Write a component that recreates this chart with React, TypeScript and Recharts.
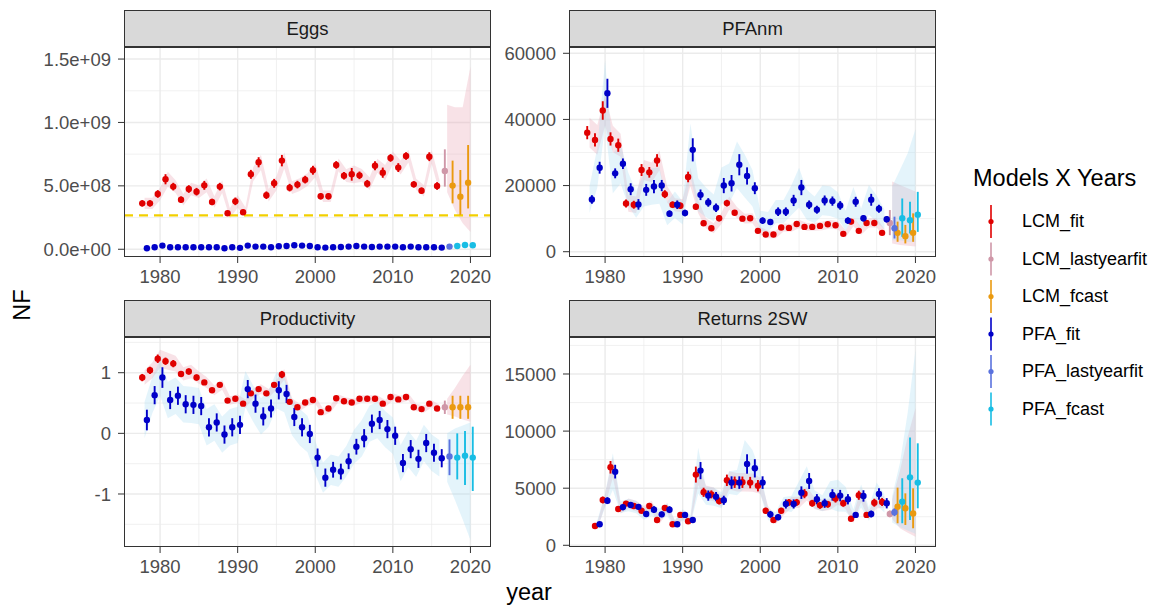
import {
  ComposedChart, Scatter, Area, XAxis, YAxis, CartesianGrid, ErrorBar, ReferenceLine,
} from "recharts";

// Four facets (free y scales): LCM vs PFA model fits, last-year fit and forecasts.

const FONT = '"Liberation Sans", Arial, Helvetica, sans-serif';

const years = [
  1978, 1979, 1980, 1981, 1982, 1983, 1984, 1985, 1986, 1987,
  1988, 1989, 1990, 1991, 1992, 1993, 1994, 1995, 1996, 1997,
  1998, 1999, 2000, 2001, 2002, 2003, 2004, 2005, 2006, 2007,
  2008, 2009, 2010, 2011, 2012, 2013, 2014, 2015, 2016,
  2017, 2018, 2019, 2020,
];
const LAST_FIT = 2016;
const LAST_YEAR_FIT = 2017;

const xTicks = [1980, 1990, 2000, 2010, 2020];
const xMinor = [1985, 1995, 2005, 2015];

// ---- Eggs (x 1e8) ----
const eggsLCM = [
  3.62, 3.62, 4.36, 5.52, 4.94, 3.91, 4.75, 4.54, 5.04, 3.73,
  4.94, 2.84, 3.78, 2.92, 5.91, 6.86, 4.26, 5.20, 6.99, 4.86,
  5.10, 5.49, 6.23, 4.18, 4.18, 6.65, 5.80, 5.91, 5.83, 5.17,
  6.59, 6.04, 7.20, 6.44, 7.35, 5.12, 4.62, 7.30, 4.99,
  6.17, 5.02, 4.15, 5.25,
];
const eggsLCMErr = [
  0.25, 0.25, 0.3, 0.4, 0.3, 0.25, 0.3, 0.3, 0.35, 0.25,
  0.3, 0.2, 0.3, 0.2, 0.35, 0.4, 0.3, 0.35, 0.45, 0.3,
  0.3, 0.3, 0.35, 0.25, 0.25, 0.3, 0.3, 0.5, 0.3, 0.3,
  0.35, 0.4, 0.3, 0.35, 0.3, 0.25, 0.25, 0.35, 0.3,
  [1.23, 1.71], [1.4, 1.97], [1.44, 2.1], [2.03, 2.97],
];
const eggsLCMBand = [
  0.45, 0.45, 0.5, 0.6, 0.5, 0.45, 0.5, 0.5, 0.55, 0.45,
  0.5, 0.4, 0.5, 0.4, 0.55, 0.6, 0.5, 0.55, 0.65, 0.5,
  0.5, 0.5, 0.55, 0.45, 0.45, 0.5, 0.5, 0.7, 0.5, 0.5,
  0.55, 0.6, 0.5, 0.55, 0.5, 0.45, 0.45, 0.55, 0.5,
  [1.67, 5.23], [1.92, 6.18], [2.1, 7.05], [3.88, 9.15],
];
const eggsPFA = [
  0.08, 0.16, 0.29, 0.16, 0.16, 0.16, 0.16, 0.16, 0.16, 0.16,
  0.08, 0.16, 0.11, 0.29, 0.21, 0.21, 0.16, 0.24, 0.26, 0.32,
  0.29, 0.26, 0.16, 0.13, 0.16, 0.18, 0.21, 0.26, 0.21, 0.18,
  0.21, 0.21, 0.21, 0.16, 0.21, 0.16, 0.16, 0.16, 0.13,
  0.21, 0.26, 0.34, 0.32,
];
const eggsPFAErr = [
  0.02, 0.02, 0.02, 0.02, 0.02, 0.02, 0.02, 0.02, 0.02, 0.02,
  0.02, 0.02, 0.02, 0.02, 0.02, 0.02, 0.02, 0.02, 0.02, 0.02,
  0.02, 0.02, 0.02, 0.02, 0.02, 0.02, 0.02, 0.02, 0.02, 0.02,
  0.02, 0.02, 0.02, 0.02, 0.02, 0.02, 0.02, 0.02, 0.02,
  0.03, 0.04, 0.05, 0.05,
];
const eggsPFABand = [
  0.05, 0.05, 0.05, 0.05, 0.05, 0.05, 0.05, 0.05, 0.05, 0.05,
  0.05, 0.05, 0.05, 0.05, 0.05, 0.05, 0.05, 0.05, 0.05, 0.05,
  0.05, 0.05, 0.05, 0.05, 0.05, 0.05, 0.05, 0.05, 0.05, 0.05,
  0.05, 0.05, 0.05, 0.05, 0.05, 0.05, 0.05, 0.05, 0.05,
  0.06, 0.08, 0.1, 0.1,
];
const eggsLimit = 2.68; // conservation limit, x 1e8

// ---- PFAnm (x 1000) ----
const pfanmLCM = [
  36.0, 33.8, 42.7, 34.1, 32.2, 14.6, 14.2, 24.7, 24.0, 27.6,
  17.4, 14.2, 13.9, 22.6, 13.6, 8.6, 7.1, 10.1, 14.7, 11.8,
  10.0, 10.1, 6.3, 5.2, 5.2, 7.3, 7.2, 8.4, 7.5, 7.5,
  7.8, 8.3, 8.0, 5.4, 9.1, 6.3, 8.7, 8.7, 5.7,
  8.7, 5.7, 4.7, 5.7,
];
const pfanmLCMErr = [
  2.0, 2.0, 2.8, 2.0, 2.0, 1.2, 1.2, 1.8, 1.6, 1.9,
  1.2, 1.0, 1.0, 1.6, 0.9, 0.8, 0.7, 0.9, 1.0, 0.8,
  0.8, 0.8, 0.6, 0.5, 0.5, 0.6, 0.6, 0.7, 0.6, 0.6,
  0.7, 0.7, 0.7, 0.5, 0.8, 0.6, 0.8, 0.8, 0.6,
  [3.7, 3.9], [2.7, 3.4], [2.2, 3.4], [2.7, 5.9],
];
const pfanmLCMBand = [
  4.5, 4.5, 4.5, 4.0, 3.5, 2.5, 2.5, 3.0, 3.0, 3.0,
  2.5, 2.0, 2.0, 2.8, 2.0, 1.5, 1.5, 1.7, 2.0, 1.7,
  1.5, 1.5, 1.2, 1.1, 1.1, 1.2, 1.2, 1.3, 1.2, 1.2,
  1.3, 1.3, 1.3, 1.1, 1.4, 1.2, 1.4, 1.4, 1.2,
  [6.2, 12.5], [3.7, 14.5], [2.9, 14.5], [4.1, 12.5],
];
const pfanmPFA = [
  15.8, 25.4, 47.9, 23.7, 26.6, 18.9, 14.3, 18.7, 19.7, 20.0,
  11.5, 14.2, 11.7, 30.8, 17.2, 14.9, 13.3, 20.0, 20.7, 26.3,
  22.9, 19.2, 9.4, 9.0, 12.1, 12.1, 15.5, 19.4, 14.2, 12.7,
  15.5, 15.3, 14.0, 9.4, 15.1, 10.1, 15.7, 13.0, 9.8,
  7.1, 10.1, 9.5, 11.2,
];
const pfanmPFAErr = [
  1.3, 1.8, 4.4, 1.5, 1.6, 1.8, 1.6, 1.8, 2.0, 1.7,
  1.0, 1.3, 1.0, 3.5, 1.6, 1.3, 1.3, 2.3, 2.5, 3.2,
  2.6, 1.8, 1.0, 0.9, 1.3, 1.3, 1.7, 2.3, 1.3, 1.2,
  1.5, 1.4, 1.3, 1.0, 1.5, 1.0, 1.8, 1.2, 1.0,
  [3.1, 3.5], [5.6, 6.0], [4.0, 5.6], [5.2, 6.9],
];
const pfanmPFABand = [
  4.0, 6.0, 10.0, 6.0, 6.0, 5.0, 4.0, 5.0, 5.5, 5.5,
  3.5, 4.0, 3.5, 8.0, 5.0, 4.5, 4.0, 5.5, 6.0, 7.0,
  6.5, 5.5, 3.0, 3.0, 3.5, 3.5, 4.5, 6.0, 4.5, 4.0,
  4.5, 4.5, 4.0, 3.0, 4.5, 3.0, 4.5, 4.0, 3.0,
  [3.6, 12.6], [6.6, 14.6], [6.5, 20.3], [8.2, 25.8],
];

// ---- Productivity ----
const prodLCM = [
  0.92, 1.04, 1.23, 1.19, 1.15, 0.98, 1.02, 0.92, 0.84, 0.71,
  0.80, 0.54, 0.57, 0.49, 0.66, 0.73, 0.66, 0.80, 0.97, 0.52,
  0.43, 0.51, 0.55, 0.35, 0.41, 0.58, 0.53, 0.51, 0.57, 0.57,
  0.57, 0.49, 0.60, 0.56, 0.60, 0.43, 0.40, 0.49, 0.41,
  0.43, 0.43, 0.43, 0.43,
];
const prodLCMErr = [
  0.06, 0.06, 0.07, 0.06, 0.06, 0.05, 0.05, 0.05, 0.04, 0.04,
  0.04, 0.03, 0.03, 0.03, 0.04, 0.04, 0.03, 0.04, 0.06, 0.03,
  0.03, 0.03, 0.03, 0.03, 0.03, 0.03, 0.03, 0.03, 0.03, 0.03,
  0.03, 0.03, 0.03, 0.03, 0.03, 0.03, 0.03, 0.03, 0.03,
  0.11, 0.19, 0.19, 0.19,
];
const prodLCMBand = [
  0.12, 0.13, 0.15, 0.14, 0.13, 0.11, 0.11, 0.10, 0.09, 0.08,
  0.08, 0.07, 0.07, 0.07, 0.08, 0.08, 0.07, 0.08, 0.09, 0.06,
  0.06, 0.06, 0.06, 0.06, 0.06, 0.06, 0.06, 0.06, 0.06, 0.06,
  0.06, 0.06, 0.06, 0.06, 0.06, 0.06, 0.06, 0.06, 0.06,
  [0.12, 0.14], [0.15, 0.32], [0.2, 0.52], [0.24, 0.7],
];
const prodPFA = [
  0.22, 0.63, 0.92, 0.55, 0.62, 0.48, 0.47, 0.45, 0.10, 0.18,
  -0.02, 0.10, 0.14, 0.73, 0.49, 0.28, 0.41, 0.71, 0.65, 0.27,
  0.10, -0.01, -0.40, -0.73, -0.60, -0.63, -0.46, -0.22, -0.08, 0.16,
  0.22, 0.07, -0.04, -0.49, -0.26, -0.42, -0.16, -0.32, -0.41,
  -0.38, -0.40, -0.37, -0.40,
];
const prodPFAErr = [
  0.17, 0.15, 0.17, 0.15, 0.15, 0.15, 0.15, 0.15, 0.15, 0.15,
  0.15, 0.15, 0.15, 0.15, 0.15, 0.15, 0.15, 0.15, 0.15, 0.15,
  0.15, 0.15, 0.15, 0.15, 0.13, 0.13, 0.13, 0.13, 0.15, 0.15,
  0.15, 0.15, 0.15, 0.15, 0.15, 0.15, 0.15, 0.15, 0.15,
  [0.31, 0.28], [0.36, 0.4], [0.48, 0.41], [0.55, 0.51],
];
const prodPFABand = [
  0.3, 0.3, 0.3, 0.3, 0.3, 0.3, 0.3, 0.3, 0.3, 0.3,
  0.3, 0.3, 0.3, 0.3, 0.3, 0.3, 0.3, 0.3, 0.3, 0.3,
  0.3, 0.3, 0.28, 0.25, 0.25, 0.25, 0.25, 0.28, 0.3, 0.3,
  0.3, 0.3, 0.3, 0.3, 0.3, 0.3, 0.3, 0.3, 0.3,
  [0.42, 0.38], [0.7, 0.48], [1.05, 0.5], [1.36, 0.58],
];

// ---- Returns 2SW (x 1000), no 1978 value ----
const retLCM = [
  null, 1.69, 3.97, 6.83, 3.18, 3.65, 3.44, 3.03, 3.44, 2.22,
  3.27, 1.84, 2.66, 2.10, 6.19, 4.64, 4.46, 3.88, 5.69, 5.52,
  5.52, 5.49, 5.22, 3.03, 2.22, 3.03, 3.76, 3.76, 4.52, 3.68,
  3.50, 3.59, 4.09, 3.68, 2.33, 4.38, 2.66, 3.73, 3.79,
  2.75, 3.38, 3.24, 2.78,
];
const retLCMErr = [
  null, 0.12, 0.3, 0.55, 0.2, 0.2, 0.2, 0.2, 0.2, 0.15,
  0.25, 0.12, 0.2, 0.15, 0.7, 0.4, 0.35, 0.3, 0.5, 0.5,
  0.5, 0.5, 0.5, 0.25, 0.2, 0.25, 0.3, 0.3, 0.4, 0.3,
  0.3, 0.3, 0.35, 0.3, 0.2, 0.4, 0.25, 0.35, 0.35,
  0.3, [1.45, 1.67], [1.46, 1.31], [1.29, 2.21],
];
const retLCMBand = [
  null, 0.3, 0.5, 0.9, 0.4, 0.45, 0.45, 0.4, 0.45, 0.35,
  0.45, 0.3, 0.4, 0.3, 0.9, 0.6, 0.6, 0.5, 0.8, 0.8,
  0.8, 0.8, 0.7, 0.4, 0.35, 0.4, 0.5, 0.5, 0.6, 0.5,
  0.5, 0.5, 0.55, 0.5, 0.35, 0.6, 0.4, 0.5, 0.5,
  [0.45, 1.25], [1.88, 3.12], [2.14, 6.26], [2.03, 9.22],
];
const retPFA = [
  null, 1.84, 3.91, 6.45, 3.33, 3.53, 3.36, 2.74, 3.12, 2.71,
  3.12, 1.84, 2.66, 2.22, 6.54, 4.35, 4.26, 3.94, 5.49, 5.49,
  7.12, 6.74, 5.49, 2.71, 2.45, 3.62, 3.62, 4.61, 5.63, 4.03,
  3.68, 4.41, 4.35, 4.03, 2.66, 4.32, 2.74, 4.49, 3.68,
  2.90, 3.82, 5.95, 5.49,
];
const retPFAErr = [
  null, 0.15, 0.3, 0.6, 0.25, 0.25, 0.25, 0.25, 0.3, 0.25,
  0.3, 0.15, 0.25, 0.15, 0.75, 0.45, 0.4, 0.4, 0.55, 0.55,
  0.85, 0.8, 0.55, 0.3, 0.25, 0.4, 0.4, 0.55, 0.7, 0.45,
  0.4, 0.5, 0.5, 0.45, 0.25, 0.5, 0.3, 0.5, 0.45,
  0.35, [1.89, 2.05], [3.73, 3.5], [2.25, 3.44],
];
const retPFABand = [
  null, 0.35, 0.6, 1.6, 0.5, 0.55, 0.55, 0.5, 0.55, 0.5,
  0.55, 0.35, 0.5, 0.4, 2.0, 0.8, 0.8, 0.7, 1.0, 1.1,
  2.1, 1.6, 1.0, 0.5, 0.45, 0.6, 0.7, 1.0, 1.3, 0.8,
  0.7, 1.2, 1.4, 1.1, 0.5, 1.0, 0.6, 1.0, 0.8,
  [0.9, 1.4], [2.22, 3.38], [4.65, 5.65], [4.49, 11.61],
];

const seriesNames = ["LCM_fit", "LCM_lastyearfit", "LCM_fcast", "PFA_fit", "PFA_lastyearfit", "PFA_fcast"];
const COLORS: Record<string, string> = {
  LCM_fit: "#e00000",
  LCM_lastyearfit: "#cf97a8",
  LCM_fcast: "#ea9a10",
  PFA_fit: "#0000c8",
  PFA_lastyearfit: "#5a72de",
  PFA_fcast: "#18bde4",
};
const BAND_FILL: Record<string, string> = { LCM: "#eaa5b3", PFA: "#a6dbf3" };
const BAND_ALPHA: Record<string, number> = { LCM: 0.32, PFA: 0.3 };
const DODGE: Record<string, number> = { LCM: -0.3, PFA: 0.3 };

type Val = number | number[];

const stageOf = (yr: number) => (yr <= LAST_FIT ? "fit" : yr === LAST_YEAR_FIT ? "lastyearfit" : "fcast");

function pointsFor(vals: (number | null)[], errs: (Val | null)[], scale: number, stage: string, dx: number) {
  return years.flatMap((yr, i) => {
    const v = vals[i];
    const e = errs[i];
    if (v == null || e == null || stageOf(yr) !== stage) return [];
    const err = Array.isArray(e) ? [e[0] * scale, e[1] * scale] : e * scale;
    return [{ x: yr + dx, y: v * scale, e: err }];
  });
}

function bandFor(vals: (number | null)[], bands: (Val | null)[], scale: number, proj: boolean) {
  return years.flatMap((yr, i) => {
    const v = vals[i];
    const b = bands[i];
    if (v == null || b == null || (yr > LAST_FIT) !== proj) return [];
    const [dn, up] = Array.isArray(b) ? b : [b, b];
    return [{ x: yr, r: [(v - dn) * scale, (v + up) * scale] }];
  });
}

const sci = (v: number) => v.toExponential(1).replace(/e([+-])(\d)$/, "e$10$2");

interface PanelDef {
  title: string;
  left: number;
  top: number;
  scale: number;
  domain: [number, number];
  ticks: number[];
  minor: number[];
  fmt?: (v: number) => string;
  lcm: (number | null)[]; lcmErr: (Val | null)[]; lcmBand: (Val | null)[];
  pfa: (number | null)[]; pfaErr: (Val | null)[]; pfaBand: (Val | null)[];
  limit?: number;
}

const panels: PanelDef[] = [
  {
    title: "Eggs", left: 0, top: 47, scale: 1e8,
    domain: [-6.1e7, 1.595e9], ticks: [0, 5e8, 1e9, 1.5e9], minor: [2.5e8, 7.5e8, 1.25e9], fmt: sci,
    lcm: eggsLCM, lcmErr: eggsLCMErr, lcmBand: eggsLCMBand,
    pfa: eggsPFA, pfaErr: eggsPFAErr, pfaBand: eggsPFABand, limit: eggsLimit,
  },
  {
    title: "PFAnm", left: 445, top: 47, scale: 1000,
    domain: [-1600, 61900], ticks: [0, 20000, 40000, 60000], minor: [10000, 30000, 50000],
    lcm: pfanmLCM, lcmErr: pfanmLCMErr, lcmBand: pfanmLCMBand,
    pfa: pfanmPFA, pfaErr: pfanmPFAErr, pfaBand: pfanmPFABand,
  },
  {
    title: "Productivity", left: 0, top: 337, scale: 1,
    domain: [-1.874, 1.589], ticks: [-1, 0, 1], minor: [-1.5, -0.5, 0.5, 1.5],
    lcm: prodLCM, lcmErr: prodLCMErr, lcmBand: prodLCMBand,
    pfa: prodPFA, pfaErr: prodPFAErr, pfaBand: prodPFABand,
  },
  {
    title: "Returns 2SW", left: 445, top: 337, scale: 1000,
    domain: [-150, 18240], ticks: [0, 5000, 10000, 15000], minor: [2500, 7500, 12500, 17500],
    lcm: retLCM, lcmErr: retLCMErr, lcmBand: retLCMBand,
    pfa: retPFA, pfaErr: retPFAErr, pfaBand: retPFABand,
  },
];

const CH_W = 500;
const PAD_TOP = 20; // room above the plot so top tick labels are not clipped
const Y_W = 124;
const PLOT_W = 367;
const PLOT_H = 210;
const X_H = 40;
const X_DOMAIN: [number, number] = [1975.35, 2022.65];
const TICK = { fill: "#4d4d4d", fontSize: 18.5, fontFamily: FONT };

function Panel({ p }: { p: PanelDef }) {
  const models = [
    { key: "LCM", vals: p.lcm, errs: p.lcmErr, bands: p.lcmBand },
    { key: "PFA", vals: p.pfa, errs: p.pfaErr, bands: p.pfaBand },
  ];
  return (
    <>
      <div style={{ position: "absolute", left: p.left, top: p.top - PAD_TOP }}>
        <ComposedChart
          width={CH_W} height={PAD_TOP + PLOT_H + X_H}
          margin={{ top: PAD_TOP, right: CH_W - Y_W - PLOT_W, bottom: 0, left: 0 }}
        >
          <CartesianGrid stroke="#ebebeb" strokeWidth={0.7} horizontalValues={p.minor} verticalValues={xMinor} />
          <CartesianGrid stroke="#ebebeb" strokeWidth={1.4} horizontalValues={p.ticks} verticalValues={xTicks} />
          <XAxis
            type="number" dataKey="x" domain={X_DOMAIN} ticks={xTicks} interval={0} allowDataOverflow
            height={X_H} axisLine={false} tickSize={6} tickMargin={7}
            tickLine={{ stroke: "#333333" }} tick={TICK}
          />
          <YAxis
            type="number" domain={p.domain} ticks={p.ticks} interval={0} allowDataOverflow
            width={Y_W} axisLine={false} tickSize={6} tickMargin={7}
            tickLine={{ stroke: "#333333" }} tick={TICK} tickFormatter={p.fmt ?? ((v: number) => String(v))}
          />
          {models.flatMap((m) => [
            <Area
              key={m.key + "-fit"} data={bandFor(m.vals, m.bands, p.scale, false)} dataKey="r" type="linear"
              stroke="none" fill={BAND_FILL[m.key]} fillOpacity={BAND_ALPHA[m.key]} dot={false} activeDot={false}
              isAnimationActive={false}
            />,
            <Area
              key={m.key + "-proj"} data={bandFor(m.vals, m.bands, p.scale, true)} dataKey="r" type="linear"
              stroke="none" fill={BAND_FILL[m.key]} fillOpacity={BAND_ALPHA[m.key]} dot={false} activeDot={false}
              isAnimationActive={false}
            />,
          ])}
          {p.limit != null && (
            <ReferenceLine y={p.limit * p.scale} stroke="#f2cf00" strokeWidth={2.2} strokeDasharray="9 6" />
          )}
          {models.flatMap((m) =>
            ["fit", "lastyearfit", "fcast"].map((stage) => {
              const name = `${m.key}_${stage}`;
              const color = COLORS[name];
              return (
                <Scatter
                  key={name} name={name} dataKey="y" isAnimationActive={false}
                  data={pointsFor(m.vals, m.errs, p.scale, stage, DODGE[m.key])}
                  shape={(s: { cx?: number; cy?: number }) => <circle cx={s.cx} cy={s.cy} r={3.2} fill={color} />}
                >
                  <ErrorBar dataKey="e" direction="y" width={0} stroke={color} strokeWidth={1.9} />
                </Scatter>
              );
            })
          )}
        </ComposedChart>
      </div>
      <div
        style={{
          position: "absolute", left: p.left + Y_W, top: p.top, width: PLOT_W, height: PLOT_H,
          border: "1px solid #333333", boxSizing: "border-box", pointerEvents: "none",
        }}
      />
      <div
        style={{
          position: "absolute", left: p.left + Y_W, top: p.top - 37, width: PLOT_W, height: 37,
          background: "#d9d9d9", border: "1px solid #333333", boxSizing: "border-box",
          display: "flex", alignItems: "center", justifyContent: "center",
          fontFamily: FONT, fontSize: 18.5, color: "#1a1a1a",
        }}
      >
        {p.title}
      </div>
    </>
  );
}

function Legend() {
  return (
    <div style={{ position: "absolute", left: 973, top: 164, fontFamily: FONT }}>
      <div style={{ fontSize: 23.5, color: "#000", lineHeight: "28px", whiteSpace: "nowrap" }}>Models X Years</div>
      <svg width={40} height={240} style={{ position: "absolute", left: 0, top: 38 }}>
        {seriesNames.map((n, i) => (
          <g key={n}>
            <line x1={18} x2={18} y1={i * 37.5 + 3} y2={i * 37.5 + 36} stroke={COLORS[n]} strokeWidth={1.6} />
            <circle cx={18} cy={i * 37.5 + 19.5} r={2.6} fill={COLORS[n]} />
          </g>
        ))}
      </svg>
      {seriesNames.map((n, i) => (
        <div
          key={n}
          style={{
            position: "absolute", left: 49, top: 38 + i * 37.5 + 8, fontSize: 18, lineHeight: "23px",
            color: "#000", whiteSpace: "nowrap",
          }}
        >
          {n}
        </div>
      ))}
    </div>
  );
}

export default function App() {
  return (
    <div
      style={{
        position: "absolute", left: 0, top: 0, width: 1164, height: 610, background: "#fff",
        overflow: "hidden", fontFamily: FONT,
      }}
    >
      {panels.map((p) => (
        <Panel key={p.title} p={p} />
      ))}
      <Legend />
      <div
        style={{
          position: "absolute", left: 22, top: 305, transform: "translate(-50%, -50%) rotate(-90deg)",
          fontSize: 23.5, color: "#000", whiteSpace: "nowrap",
        }}
      >
        NF
      </div>
      <div
        style={{
          position: "absolute", left: 529, top: 592, transform: "translate(-50%, -50%)",
          fontSize: 23.5, color: "#000", whiteSpace: "nowrap",
        }}
      >
        year
      </div>
    </div>
  );
}
